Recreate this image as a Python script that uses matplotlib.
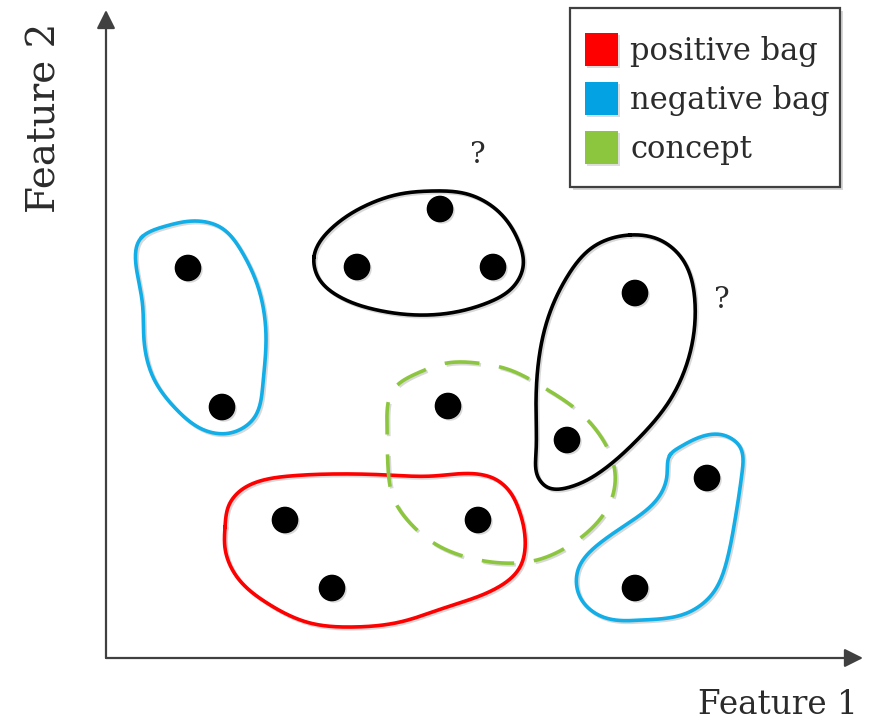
import numpy as np
import matplotlib
matplotlib.use("Agg")
import matplotlib.pyplot as plt
import matplotlib.patheffects as pe
from matplotlib.patches import Patch, Rectangle

# Instances in feature space (origin at the axis corner)
instance_x = [82, 116, 251, 334, 387, 529, 461, 342, 179, 372, 226, 601, 529]
instance_y = [390, 251, 391, 449, 391, 365, 218, 252, 138, 138, 70, 180, 70]

# Bag outlines (control points of closed smooth curves)
neg_bag_a = [(36, 421), (60, 432), (90, 437), (114, 431), (136, 406), (153, 368),
             (160, 321), (157, 275), (148, 240), (124, 225), (98, 228), (71, 248),
             (47, 281), (38, 318), (36, 358)]
unk_bag_a = [(208, 401), (227, 431), (261, 453), (294, 464), (327, 467), (361, 464),
             (394, 445), (412, 418), (417, 391), (407, 371), (381, 355), (344, 345),
             (311, 343), (271, 348), (234, 361), (212, 381)]
unk_bag_b = [(524, 423), (554, 418), (577, 398), (589, 355), (584, 305), (564, 258),
             (531, 218), (497, 188), (464, 171), (441, 171), (432, 181), (430, 205),
             (430, 250), (433, 300), (442, 340), (461, 381), (487, 411)]
pos_bag = [(119, 131), (123, 153), (134, 167), (154, 177), (184, 182), (227, 184),
           (281, 183), (327, 182), (371, 184), (389, 179), (404, 166), (413, 148),
           (419, 121), (414, 91), (387, 68), (341, 51), (294, 36), (247, 31),
           (204, 35), (161, 55), (131, 81), (119, 110)]
neg_bag_b = [(564, 203), (574, 211), (587, 218), (617, 223), (634, 211), (636, 185),
             (629, 138), (621, 98), (607, 65), (581, 45), (537, 38), (497, 41),
             (474, 61), (472, 88), (494, 115), (527, 138), (552, 160), (561, 183)]
concept = [(341, 295), (371, 295), (404, 288), (437, 271), (471, 248), (497, 218),
           (509, 185), (504, 155), (487, 131), (461, 111), (431, 98), (397, 95),
           (364, 100), (331, 113), (304, 135), (287, 161), (282, 191), (281, 231),
           (287, 268), (314, 286)]

unknown_marks = [(372, 503), (616, 358)]

legend_labels = ["positive bag", "negative bag", "concept"]
RED = "#ff0000"
BLUE = "#12aee8"
GREEN = "#8cc63f"
AXIS = "#404040"
TEXT = "#2b2b2b"


def smooth_outline(pts, per=30):
    """Periodic cubic spline (chord-length parameter) through the control points."""
    p = np.asarray(pts, float)
    n = len(p)
    h = np.hypot(*(np.roll(p, -1, axis=0) - p).T)
    A = np.zeros((n, n))
    rhs = np.zeros((n, 2))
    for i in range(n):
        hp, hi = h[i - 1], h[i]
        A[i, i - 1] = hp
        A[i, i] = 2 * (hp + hi)
        A[i, (i + 1) % n] = hi
        rhs[i] = 6 * ((p[(i + 1) % n] - p[i]) / hi - (p[i] - p[i - 1]) / hp)
    M = np.linalg.solve(A, rhs)
    out = []
    for i in range(n):
        j = (i + 1) % n
        t = np.linspace(0, h[i], per, endpoint=False)[:, None]
        a, b = h[i] - t, t
        out.append(M[i] * a ** 3 / (6 * h[i]) + M[j] * b ** 3 / (6 * h[i])
                   + (p[i] / h[i] - M[i] * h[i] / 6) * a
                   + (p[j] / h[i] - M[j] * h[i] / 6) * b)
    out.append(p[:1])
    return np.vstack(out)


plt.rcParams["font.family"] = ["DejaVu Serif"]

fig = plt.figure(figsize=(8.77, 7.21), dpi=100)
ax = fig.add_axes([0, 0, 1, 1])
ax.set_xlim(-106, 771)
ax.set_ylim(-63, 658)
ax.axis("off")

shadow = [pe.SimpleLineShadow(offset=(1.2, -1.2), shadow_color="gray", alpha=0.3),
          pe.Normal()]

for outline, colour in [(neg_bag_a, BLUE), (unk_bag_a, "black"), (unk_bag_b, "black"),
                        (pos_bag, RED), (neg_bag_b, BLUE)]:
    c = smooth_outline(outline)
    ax.plot(c[:, 0], c[:, 1], color=colour, lw=2.6, path_effects=shadow, zorder=2)

c = smooth_outline(concept)
ax.plot(c[:, 0], c[:, 1], color=GREEN, lw=2.6, dashes=(9, 5.5),
        path_effects=shadow, zorder=3)

ax.scatter(instance_x, instance_y, s=330, color="black", zorder=4,
           path_effects=[pe.SimplePatchShadow(offset=(1.5, -1.5), shadow_rgbFace="gray",
                                              alpha=0.3), pe.Normal()])

for qx, qy in unknown_marks:
    ax.text(qx, qy, "?", fontsize=21, ha="center", va="center", color=TEXT)

# axes with arrow heads
arrow = dict(arrowstyle="-|>", color=AXIS, lw=1.6, mutation_scale=28,
             shrinkA=0, shrinkB=0)
ax.annotate("", xy=(757, 0), xytext=(0, 0), arrowprops=arrow)
ax.annotate("", xy=(0, 648), xytext=(0, 0), arrowprops=arrow)

ax.text(752, -47, "Feature 1", fontsize=23.5, ha="right", va="center", color=TEXT)
ax.text(-61, 540, "Feature 2", fontsize=28, ha="center", va="center",
        rotation=90, color=TEXT)

# legend: frame drawn separately so its padding can be matched
frame = Rectangle((464, 471), 270, 179, facecolor="white", edgecolor=AXIS, lw=1.6,
                  zorder=5, path_effects=[pe.SimplePatchShadow(offset=(2, -2),
                                          shadow_rgbFace="#bbbbbb", alpha=0.6),
                                          pe.Normal()])
ax.add_patch(frame)
square_fx = [pe.SimplePatchShadow(offset=(1.5, -1.5), shadow_rgbFace="#aaaaaa", alpha=0.4),
             pe.Normal()]
handles = [Patch(facecolor=col, edgecolor="none", path_effects=square_fx)
           for col in (RED, "#03a3e3", GREEN)]
leg = ax.legend(handles, legend_labels, loc="upper left",
                bbox_to_anchor=(479, 625), bbox_transform=ax.transData,
                fontsize=22, frameon=False,
                handlelength=1.08, handleheight=1.28, handletextpad=0.4,
                labelspacing=0.5, borderpad=0, borderaxespad=0)
leg.set_zorder(6)
for t in leg.get_texts():
    t.set_color(TEXT)

fig.savefig("out.png", dpi=100)
